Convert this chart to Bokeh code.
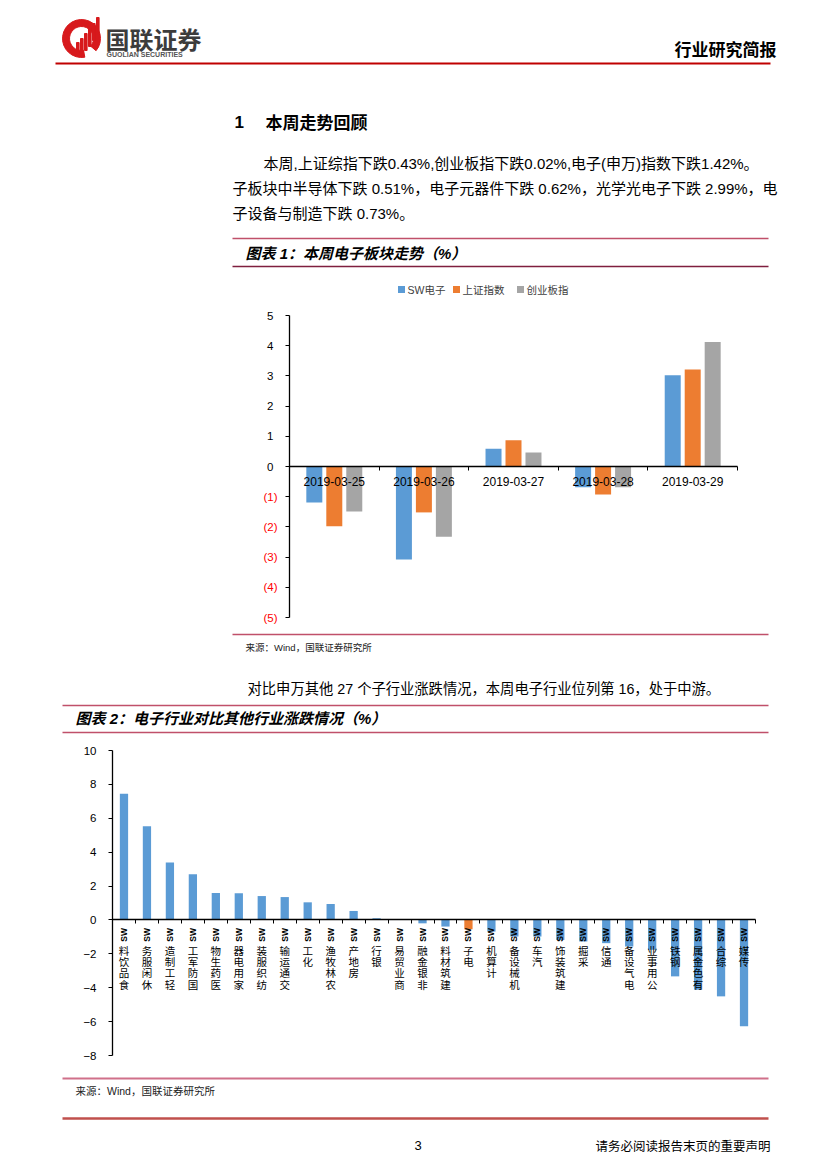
import math
from bokeh.plotting import figure
from bokeh.models import Range1d, FixedTicker
from bokeh.layouts import column
from bokeh.embed import file_html
from bokeh.resources import INLINE
from bokeh.core.properties import value

CJK = "Noto Sans CJK SC"
MIX = "Liberation Sans, Noto Sans CJK SC"
LAT = "Liberation Sans"

# ---------------- chart 1 data ----------------
dates = ["2019-03-25", "2019-03-26", "2019-03-27", "2019-03-28", "2019-03-29"]
sw_electronics = [-1.19, -3.08, 0.59, -0.69, 3.02]
sse_composite = [-1.98, -1.52, 0.87, -0.93, 3.21]
chinext = [-1.49, -2.33, 0.46, -0.69, 4.12]
series_names = ["SW电子", "上证指数", "创业板指"]
series_colors = ["#5B9BD5", "#ED7D31", "#A5A5A5"]
chart1_pos_ticks = [0, 1, 2, 3, 4, 5]
chart1_neg_ticks = [-5, -4, -3, -2, -1]

# ---------------- chart 2 data ----------------
industries = ["食品饮料SW", "休闲服务SW", "轻工制造SW", "国防军工SW", "医药生物SW",
              "家用电器SW", "纺织服装SW", "交通运输SW", "化工SW", "农林牧渔SW",
              "房地产SW", "银行SW", "商业贸易SW", "非银金融SW", "建筑材料SW",
              "电子SW", "计算机SW", "机械设备SW", "汽车SW", "建筑装饰SW",
              "采掘SW", "通信SW", "电气设备SW", "公用事业SW", "钢铁SW",
              "有色金属SW", "综合SW", "传媒SW"]
industry_change = [7.45, 5.53, 3.39, 2.69, 1.59,
                   1.57, 1.41, 1.35, 1.04, 0.94,
                   0.53, 0.10, 0.02, -0.20, -0.39,
                   -0.55, -0.69, -0.98, -0.98, -1.18,
                   -1.27, -1.37, -1.57, -1.76, -3.33,
                   -4.12, -4.51, -6.27]
highlight_industry = "电子SW"
chart2_ticks = [-8, -6, -4, -2, 0, 2, 4, 6, 8, 10]

W = 827


def deco(top, bottom):
    p = figure(width=W, height=bottom - top, x_range=Range1d(0, W),
               y_range=Range1d(bottom, top), output_backend="svg",
               toolbar_location=None, min_border=0)
    p.xaxis.visible = False
    p.yaxis.visible = False
    p.xgrid.visible = False
    p.ygrid.visible = False
    p.outline_line_color = None
    return p


def chart_fig(top, bottom, x0px, x1px, xlo, xhi, y0px, y1px, ylo, yhi):
    sx = (x1px - x0px) / (xhi - xlo)
    sy = (y1px - y0px) / (yhi - ylo)
    xr = Range1d(xlo - x0px / sx, xhi + (W - x1px) / sx)
    yr = Range1d(ylo - (bottom - y1px) / sy, yhi + (y0px - top) / sy)
    p = figure(width=W, height=bottom - top, x_range=xr, y_range=yr,
               output_backend="svg", toolbar_location=None, min_border=0)
    p.xgrid.visible = False
    p.ygrid.visible = False
    p.outline_line_color = None
    p.yaxis.fixed_location = xlo
    p.yaxis.bounds = (ylo, yhi)
    p.xaxis.fixed_location = 0
    p.xaxis.bounds = (xlo, xhi)
    for ax in (p.xaxis[0], p.yaxis[0]):
        ax.axis_line_color = "#000000"
        ax.axis_line_width = 1.3
        ax.major_tick_line_color = "#000000"
        ax.minor_tick_line_color = "#000000"
        ax.major_tick_in = 0
        ax.minor_tick_in = 0
        ax.major_label_text_font = LAT
        ax.major_label_text_color = "#000000"
    return p


def txt(p, x, y, s, size, font=MIX, color="#000000", align="left",
        style="normal", baseline="middle"):
    p.text(x=[x], y=[y], text=[s], text_font=value(font),
           text_font_size=f"{size}px", text_color=color, text_align=align,
           text_baseline=baseline, text_font_style=style)


def hline(p, y, x0, x1, color, w):
    p.segment(x0=[x0], y0=[y], x1=[x1], y1=[y], line_color=color, line_width=w)


# ================= top decoration =================
top = deco(0, 300)
# logo
top.annular_wedge(x=[81], y=[38], inner_radius=12, outer_radius=19,
                  start_angle=math.radians(-40), end_angle=math.radians(280),
                  color="#D7191C")
top.quad(left=[76, 80, 84, 88, 92, 96], right=[78.6, 82.6, 86.6, 90.6, 94.6, 98.6],
         bottom=[52, 52, 50, 46, 40, 34], top=[42, 38, 33, 28, 23, 17],
         color="#D7191C")
txt(top, 105, 38, "国联证券", 24, font=CJK, color="#3C3C3C", style="bold")
txt(top, 106, 54, "GUOLIAN SECURITIES", 7, font=LAT, color="#555555", style="bold")
txt(top, 776, 48, "行业研究简报", 17, font=CJK, align="right", style="bold")
hline(top, 63, 55, 770, "#C00000", 2)

txt(top, 234, 121, "1", 17, font=LAT, style="bold")
txt(top, 265, 121, "本周走势回顾", 17, font=CJK, style="bold")
txt(top, 263, 163, "本周,上证综指下跌0.43%,创业板指下跌0.02%,电子(申万)指数下跌1.42%。", 15)
txt(top, 232, 188, "子板块中半导体下跌 0.51%，电子元器件下跌 0.62%，光学光电子下跌 2.99%，电", 15)
txt(top, 232, 213, "子设备与制造下跌 0.73%。", 15)
hline(top, 238, 232, 768, "#C0506A", 1.5)
txt(top, 245, 253, "图表 1：本周电子板块走势（%）", 15, style="bold italic")
hline(top, 266, 232, 768, "#7F1F3F", 1.5)

# legend
leg_x = [401, 456, 520]
top.scatter(x=leg_x, y=[289] * 3, marker="square", size=7,
            fill_color=series_colors, line_color=None)
top.text(x=[v + 6 for v in leg_x], y=[289] * 3, text=series_names,
         text_font=value(MIX), text_font_size="10.5px", text_color="#404040",
         text_align="left", text_baseline="middle")

# ================= chart 1 =================
n1 = len(dates)
c1 = chart_fig(300, 630, 289, 737, 0, 2 * n1, 315, 617, -5, 5)
centers = [2 * i + 1 for i in range(n1)]
for k, (vals, col) in enumerate(zip([sw_electronics, sse_composite, chinext], series_colors)):
    off = (k - 1) * 0.446
    c1.vbar(x=[c + off for c in centers], top=vals, bottom=0, width=0.357,
            fill_color=col, line_color=None)

c1.xaxis.ticker = FixedTicker(ticks=centers, minor_ticks=list(range(0, 2 * n1 + 1, 2)))
c1.xaxis.major_label_overrides = {c: d for c, d in zip(centers, dates)}
c1.xaxis.major_tick_out = 0
c1.xaxis.minor_tick_out = 4
c1.xaxis.major_label_text_font_size = "12px"
c1.xaxis.major_label_standoff = 6

c1.yaxis.ticker = FixedTicker(ticks=chart1_pos_ticks, minor_ticks=chart1_neg_ticks)
c1.yaxis.major_tick_out = 4
c1.yaxis.minor_tick_out = 4
c1.yaxis.major_label_text_font_size = "11.5px"
c1.yaxis.major_label_standoff = 12
c1.text(x=[0] * len(chart1_neg_ticks), y=chart1_neg_ticks,
        text=[f"({-v})" for v in chart1_neg_ticks], x_offset=-12,
        text_align="right", text_baseline="middle", text_color="#FF0000",
        text_font=value(LAT), text_font_size="11.5px")

# ================= middle decoration =================
mid = deco(630, 740)
hline(mid, 634, 232, 768, "#C0506A", 1.5)
txt(mid, 245, 647, "来源：Wind，国联证券研究所", 9.5, color="#222222")
txt(mid, 247, 688, "对比申万其他 27 个子行业涨跌情况，本周电子行业位列第 16，处于中游。", 14.3)
hline(mid, 705, 62, 768, "#C0506A", 1.5)
txt(mid, 75, 718, "图表 2：电子行业对比其他行业涨跌情况（%）", 15, style="bold italic")
hline(mid, 732, 62, 768, "#C0506A", 1.5)

# ================= chart 2 =================
n = len(industries)
c2 = chart_fig(740, 1065, 112, 755, 0, n, 750, 1055, -8, 10)
xs = [i + 0.5 for i in range(n)]
bar_colors = ["#ED7D31" if name == highlight_industry else "#5B9BD5" for name in industries]
c2.vbar(x=xs, top=industry_change, bottom=0, width=0.36, fill_color=bar_colors,
        line_color=None)
c2.text(x=xs, y=[0] * n, text=["SW"] * n, angle=math.pi / 2, text_align="right",
        text_baseline="middle", y_offset=8, text_font=value(LAT),
        text_font_style="bold", text_font_size="8.5px", text_color="#000000")
c2.text(x=xs, y=[0] * n, text=["\n".join(reversed(name[:-2])) for name in industries],
        text_align="center", text_baseline="top", y_offset=23,
        text_font=value(CJK), text_font_size="10.5px", text_line_height=0.75,
        text_color="#000000")

c2.xaxis.ticker = FixedTicker(ticks=[], minor_ticks=list(range(n + 1)))
c2.xaxis.minor_tick_out = 4
c2.yaxis.ticker = FixedTicker(ticks=chart2_ticks)
c2.yaxis.major_tick_out = 4
c2.yaxis.minor_tick_line_color = None
c2.yaxis.major_label_text_font_size = "11.5px"
c2.yaxis.major_label_standoff = 12

# ================= bottom decoration =================
bot = deco(1065, 1160)
hline(bot, 1078, 62, 768, "#D0708A", 2)
txt(bot, 75, 1090, "来源：Wind，国联证券研究所", 10.5, color="#222222")
hline(bot, 1118, 62, 768, "#C0504D", 2.5)
txt(bot, 414, 1145, "3", 13, font=LAT)
txt(bot, 770, 1145, "请务必阅读报告末页的重要声明", 12.5, font=CJK, align="right")

page = column(top, c1, mid, c2, bot, spacing=0)
open("out.html", "w").write(file_html(page, INLINE))
